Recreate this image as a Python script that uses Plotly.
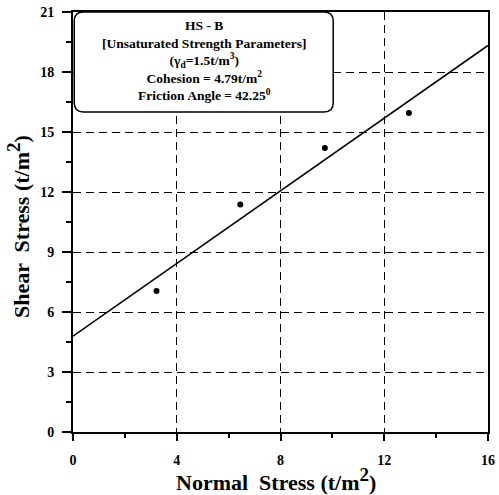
import math
import plotly.graph_objects as go

# Data
normal_stress = [3.22, 6.45, 9.71, 12.95]
shear_stress = [7.05, 11.38, 14.2, 15.95]
cohesion = 4.79
friction_angle = 42.25
x_ticks = [0, 4, 8, 12, 16]
y_ticks = [0, 3, 6, 9, 12, 15, 18, 21]
box_lines = [
    "HS - B",
    "[Unsaturated Strength Parameters]",
    "(γ<sub>d</sub>=1.5t/m<sup>3</sup>)",
    "Cohesion = 4.79t/m<sup>2</sup>",
    "Friction Angle = 42.25<sup>0</sup>",
]
x_title = "Normal  Stress (t/m<sup><span style='font-size:19px'>2</span></sup>)"
y_title = "Shear  Stress (t/m<sup><span style='font-size:19px'>2</span></sup>)"

FONT = "Liberation Serif"

fit_x = [x_ticks[0], x_ticks[-1]]
slope = math.tan(math.radians(friction_angle))
fit_y = [cohesion + slope * v for v in fit_x]

fig = go.Figure()
fig.add_trace(go.Scatter(x=fit_x, y=fit_y, mode="lines",
                         line=dict(color="black", width=1.6), showlegend=False))
fig.add_trace(go.Scatter(x=normal_stress, y=shear_stress, mode="markers",
                         marker=dict(color="black", size=6), showlegend=False))

axis_common = dict(
    showline=True, linecolor="black", linewidth=2, mirror=True,
    showgrid=True, gridcolor="black", gridwidth=1, griddash="8px,5px",
    zeroline=False, ticks="outside", tickcolor="black", tickwidth=1.5,
    automargin=False,
    tickfont=dict(family=FONT, size=14, color="black", weight="bold"),
)

fig.update_xaxes(range=[0, 16], tickvals=x_ticks, ticklen=7, ticklabelstandoff=7,
                 minor=dict(ticks="outside", ticklen=4, dtick=2, tick0=0,
                            tickcolor="black", tickwidth=1.5, showgrid=False),
                 **axis_common)
fig.update_yaxes(range=[0, 21], tickvals=y_ticks, ticklen=9, ticklabelstandoff=5,
                 minor=dict(ticks="outside", ticklen=5, dtick=1.5, tick0=0,
                            tickcolor="black", tickwidth=1.5, showgrid=False),
                 **axis_common)

title_font = dict(family=FONT, size=22, color="black", weight="bold")
fig.add_annotation(text=x_title, xref="paper", yref="paper", x=0.49, y=-0.113,
                   showarrow=False, xanchor="center", yanchor="middle", font=title_font)
fig.add_annotation(text=y_title, xref="paper", yref="paper", x=-0.133, y=0.49,
                   textangle=-90, showarrow=False, xanchor="center", yanchor="middle",
                   font=title_font)

# rounded box (paper coords)
x0, x1 = 0.003, 0.627
y0, y1 = 0.762, 1.0
rx, ry = 0.022, 0.022
path = (f"M {x0+rx},{y1} L {x1-rx},{y1} Q {x1},{y1} {x1},{y1-ry} "
        f"L {x1},{y0+ry} Q {x1},{y0} {x1-rx},{y0} L {x0+rx},{y0} "
        f"Q {x0},{y0} {x0},{y0+ry} L {x0},{y1-ry} Q {x0},{y1} {x0+rx},{y1} Z")
fig.add_shape(type="path", path=path, xref="paper", yref="paper",
              line=dict(color="black", width=1.5), fillcolor="white", layer="above")

fig.add_annotation(text="<br>".join(box_lines), xref="paper", yref="paper",
                   x=(x0 + x1) / 2, y=(y0 + y1) / 2 + 0.004, showarrow=False,
                   align="center", xanchor="center", yanchor="middle",
                   font=dict(family=FONT, size=13.5, color="black", weight="bold"))

fig.update_layout(
    width=499, height=495,
    margin=dict(l=73, r=11, t=12, b=63),
    paper_bgcolor="white", plot_bgcolor="white",
)

fig.write_html("out.html")
